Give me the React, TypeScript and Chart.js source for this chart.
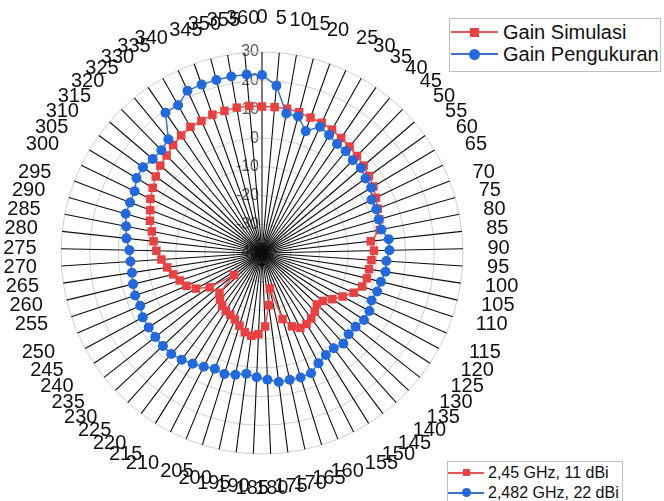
import { useEffect, useRef } from 'react';
import { Chart, registerables } from 'chart.js';

Chart.register(...registerables);

const angleLabels: string[] = [
  '0', '5', '10', '15', '20', '25', '30', '35', '40', '45', '50', '55', '60', '65', '70', '75', '80', '85',
  '90', '95', '100', '105', '110', '115', '120', '125', '130', '135', '140', '145', '150', '155', '160', '165',
  '170', '175', '180', '185', '190', '195', '200', '205', '210', '215', '220', '225', '230', '235', '240', '245',
  '250', '255', '260', '265', '270', '275', '280', '285', '290', '295', '300', '305', '310', '315', '320', '325',
  '330', '335', '340', '345', '350', '355', '360',
];

const radialTicks: number[] = [-40, -30, -20, -10, 0, 10, 20, 30];

const gainSimulasi: number[] = [
  11.0, 11.0, 11.0, 10.7, 10.1, 9.9, 9.4, 8.6, 8.0, 7.3, 6.7, 5.9, 5.2, 4.1, 3.2, 2.5, 1.8, -1.9,
  -1.0, -1.8, -2.3, -2.4, -3.2, -5.2, -8.1, -10.7, -13.0, -13.8, -12.5, -11.5, -10.8, -10.7, -12.4, -15.9,
  -27.4, -21.7, -14.4, -11.7, -10.9, -11.8, -13.5, -15.0, -15.8, -16.2, -17.0, -18.1, -19.7, -27.6, -18.2, -13.9,
  -11.3, -9.8, -8.2, -6.6, -4.9, -3.2, -2.0, -0.9, 0.6, 1.7, 3.2, 4.3, 5.6, 6.7, 7.5, 8.7,
  9.7, 10.5, 10.6, 11.2, 11.2, 11.4, 11.4,
];

const gainPengukuran: number[] = [
  22.0, 18.5, 9.3, 9.2, 5.1, 8.4, 7.3, 6.1, 5.9, 5.2, 5.4, 4.4, 4.3, 2.4, 2.6, 2.3, 2.4, 4.4,
  4.4, 3.4, 3.5, 2.6, 2.3, 1.6, 2.5, 2.5, 1.5, 1.4, 2.4, 1.5, 1.9, 3.1, 5.2, 5.4,
  5.2, 5.3, 4.2, 3.3, 2.4, 3.4, 4.1, 3.5, 4.5, 5.5, 6.5, 7.3, 7.3, 7.3, 7.2, 7.2,
  6.2, 6.6, 6.2, 5.8, 5.9, 6.2, 7.5, 8.2, 9.4, 9.2, 9.3, 10.9, 11.1, 10.2, 10.1, 11.3,
  19.3, 19.2, 22.2, 22.3, 22.3, 22.4, 22.4,
];

const legendTop: string[] = ['Gain Simulasi', 'Gain Pengukuran'];
const legendBottom: string[] = ['2,45 GHz, 11 dBi', '2,482 GHz, 22 dBi'];

const RED = '#e94141';
const RED_LINE = '#e35757';
const BLUE = '#2169dc';
const BLUE_LINE = '#3d72c6';
const FONT = '"Liberation Sans", Arial, Helvetica, sans-serif';

const excelLabels = {
  id: 'excelRadarLabels',
  beforeDraw(chart: any) {
    const scale = chart.scales.r;
    const ctx = chart.ctx as CanvasRenderingContext2D;
    ctx.save();
    // radial tick labels (right-aligned along the 0 axis)
    ctx.font = `16px ${FONT}`;
    ctx.fillStyle = '#595959';
    ctx.textAlign = 'right';
    ctx.textBaseline = 'middle';
    radialTicks.forEach((v) => {
      const d = scale.getDistanceFromCenterForValue(v);
      ctx.fillText(String(v), scale.xCenter - 3, scale.yCenter - d);
    });
    // angular labels, placed Excel-style by octant
    ctx.font = `20px ${FONT}`;
    ctx.fillStyle = '#111111';
    ctx.textAlign = 'center';
    const labels = chart.data.labels as string[];
    const sx = [0, 1, 1, 1, 0, -1, -1, -1];
    const sy = [-1, -1, 0, 1, 1, 1, 0, -1];
    for (let i = 0; i < labels.length; i++) {
      const label = String(labels[i]);
      const deg = (scale.getIndexAngle(i) * 180) / Math.PI;
      const oct = Math.round(deg / 45) % 8;
      const p = scale.getPointPosition(i, scale.drawingArea + 24.5);
      const w = ctx.measureText(label).width;
      ctx.fillText(label, p.x + (sx[oct] * w) / 2, p.y + sy[oct] * 10);
    }
    ctx.restore();
  },
};

function LegendRow(props: {
  top: number; lineLeft: number; lineWidth: number; markerX: number; textLeft: number;
  color: string; lineColor: string; marker: 'rect' | 'circle'; size: number; text: string; fontSize: number;
}) {
  const { top, lineLeft, lineWidth, markerX, textLeft, color, lineColor, marker, size, text, fontSize } = props;
  return (
    <>
      <div style={{ position: 'absolute', left: lineLeft, top: top - 1, width: lineWidth, height: 2, background: lineColor }} />
      <div
        style={{
          position: 'absolute', left: markerX - size / 2, top: top - size / 2, width: size, height: size,
          background: color, borderRadius: marker === 'circle' ? '50%' : 0,
        }}
      />
      <div
        style={{
          position: 'absolute', left: textLeft, top: top - fontSize / 2, fontSize, lineHeight: `${fontSize}px`,
          whiteSpace: 'nowrap', color: '#111',
        }}
      >
        {text}
      </div>
    </>
  );
}

export default function App() {
  const canvasRef = useRef<HTMLCanvasElement | null>(null);

  useEffect(() => {
    if (!canvasRef.current) return;
    const chart = new Chart(canvasRef.current, {
      type: 'radar',
      data: {
        labels: angleLabels,
        datasets: [
          {
            label: legendTop[0],
            data: gainSimulasi,
            borderColor: RED_LINE,
            backgroundColor: RED,
            borderWidth: 1.5,
            pointStyle: 'rect',
            pointRadius: 6,
            pointBorderWidth: 0,
            pointBackgroundColor: RED,
            fill: false,
            order: 1,
          },
          {
            label: legendTop[1],
            data: gainPengukuran,
            borderColor: BLUE_LINE,
            backgroundColor: BLUE,
            borderWidth: 1.5,
            pointStyle: 'circle',
            pointRadius: 5,
            pointBorderWidth: 0,
            pointBackgroundColor: BLUE,
            fill: false,
            order: 0,
          },
        ],
      },
      options: {
        responsive: false,
        maintainAspectRatio: false,
        devicePixelRatio: 1,
        animation: false,
        events: [],
        layout: { padding: { left: 61, top: 52, right: 201, bottom: 47 } },
        plugins: { legend: { display: false }, tooltip: { enabled: false }, title: { display: false } },
        scales: {
          r: {
            min: -40,
            max: 30,
            ticks: { stepSize: 10, display: false },
            pointLabels: { display: false },
            grid: { circular: true, color: '#cfcfcf', lineWidth: 1 },
            angleLines: { color: '#0d0d0d', lineWidth: 1.1 },
          },
        },
      },
      plugins: [excelLabels],
    });
    return () => chart.destroy();
  }, []);

  return (
    <div
      style={{
        position: 'fixed', left: 0, top: 0, width: 664, height: 501, overflow: 'hidden',
        background: '#ffffff', fontFamily: FONT,
      }}
    >
      <canvas ref={canvasRef} width={664} height={501} style={{ position: 'absolute', left: 0, top: 0, width: 664, height: 501 }} />
      <div
        style={{
          position: 'absolute', left: 449, top: 18, width: 212, height: 54, boxSizing: 'border-box',
          border: '1px solid #bfbfbf', background: '#fff',
        }}
      >
        <LegendRow top={13} lineLeft={1} lineWidth={47} markerX={24.5} textLeft={53} color={RED} lineColor={RED_LINE}
          marker="rect" size={9} text={legendTop[0]} fontSize={20} />
        <LegendRow top={35} lineLeft={1} lineWidth={47} markerX={24.5} textLeft={53} color={BLUE} lineColor={BLUE_LINE}
          marker="circle" size={11} text={legendTop[1]} fontSize={20} />
      </div>
      <div
        style={{
          position: 'absolute', left: 447, top: 461, width: 176, height: 60, boxSizing: 'border-box',
          border: '1px solid #bfbfbf', background: '#fff',
        }}
      >
        <LegendRow top={10.5} lineLeft={0} lineWidth={36} markerX={18} textLeft={40} color={RED} lineColor={RED_LINE}
          marker="rect" size={7} text={legendBottom[0]} fontSize={16} />
        <LegendRow top={30.5} lineLeft={0} lineWidth={36} markerX={18} textLeft={40} color={BLUE} lineColor={BLUE_LINE}
          marker="circle" size={9} text={legendBottom[1]} fontSize={16} />
      </div>
    </div>
  );
}
